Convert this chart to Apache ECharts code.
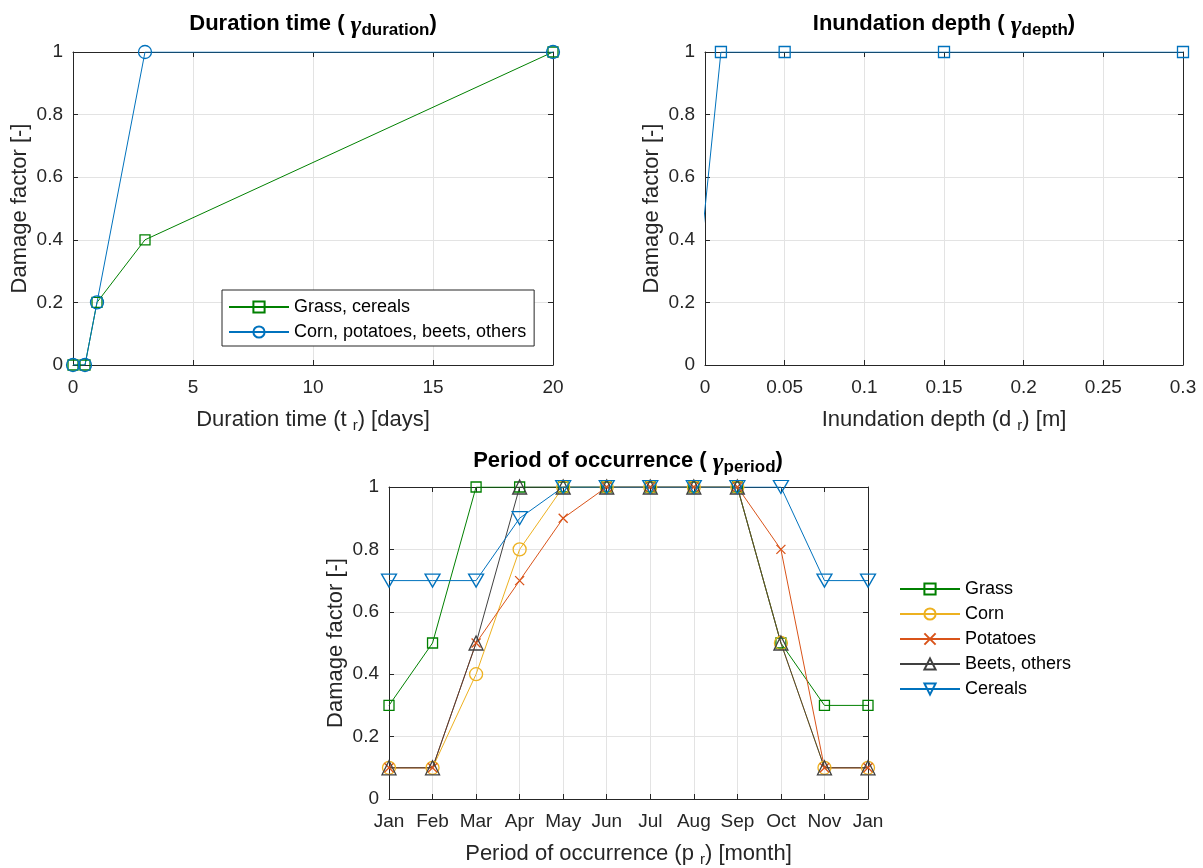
<!DOCTYPE html>
<html>
<head>
<meta charset="utf-8">
<script src="https://cdn.jsdelivr.net/npm/echarts@6/dist/echarts.min.js"></script>
<style>
  html, body { margin: 0; padding: 0; background: #fff; }
  #chart { width: 1203px; height: 868px; }
</style>
</head>
<body>
<div id="chart"></div>
<script>
// Duration time curves (days -> damage factor)
const durationDays = [0, 0.5, 1, 3, 20];
const durationGrassCereals = [0, 0, 0.2, 0.4, 1];
const durationCornOthers = [0, 0, 0.2, 1, 1];

// Inundation depth curve (m -> damage factor); the first point lies left of the axis
const depthMetres = [-0.01, 0.01, 0.05, 0.15, 0.3];
const depthFactor = [0, 1, 1, 1, 1];

// Period of occurrence (month index -> damage factor)
const monthIndex = [1, 2, 3, 4, 5, 6, 7, 8, 9, 10, 11, 12];
const monthLabels = ['Jan', 'Feb', 'Mar', 'Apr', 'May', 'Jun', 'Jul', 'Aug', 'Sep', 'Oct', 'Nov', 'Jan'];
const periodGrass    = [0.3, 0.5, 1, 1, 1, 1, 1, 1, 1, 0.5, 0.3, 0.3];
const periodCorn     = [0.1, 0.1, 0.4, 0.8, 1, 1, 1, 1, 1, 0.5, 0.1, 0.1];
const periodPotatoes = [0.1, 0.1, 0.5, 0.7, 0.9, 1, 1, 1, 1, 0.8, 0.1, 0.1];
const periodBeets    = [0.1, 0.1, 0.5, 1, 1, 1, 1, 1, 1, 0.5, 0.1, 0.1];
const periodCereals  = [0.7, 0.7, 0.7, 0.9, 1, 1, 1, 1, 1, 1, 0.7, 0.7];

const FONT = '"Liberation Sans", Arial, Helvetica, sans-serif';
const INK = '#262626';
const GRID_LINE = '#e3e3e3';

const C_GREEN = '#008000';
const C_BLUE = '#0072BD';
const C_YELLOW = '#EDB120';
const C_ORANGE = '#D95319';
const C_DARK = '#404040';

const SYM_CROSS = 'path://M0,0L10,10M10,0L0,10';
const SYM_DOWN = 'path://M0,0L12,0L6,10Z';

const TICK_FONT = 19;
const LABEL_FONT = 22;
const LEGEND_FONT = 18;

function zip(xs, ys) { return xs.map((x, i) => [x, ys[i]]); }

function seriesOf(name, xs, ys, color, symbol, size, grid) {
  return {
    type: 'line', name: name,
    xAxisIndex: grid, yAxisIndex: grid,
    data: zip(xs, ys),
    symbol: symbol, symbolSize: size, showSymbol: true,
    clip: true, animation: false,
    lineStyle: { color: color, width: 1 },
    itemStyle: { color: 'rgba(255,255,255,0)', borderColor: color, borderWidth: 1.3 },
    emphasis: { disabled: true }
  };
}

const richSub = {
  n: { fontFamily: FONT, fontSize: LABEL_FONT, color: INK, lineHeight: 24, verticalAlign: 'top' },
  s: { fontFamily: FONT, fontSize: 15, color: INK, lineHeight: 15, verticalAlign: 'bottom', padding: [13, 0, 0, 0] }
};

function xAxisPair(grid, min, max, interval, name, formatter) {
  const bottom = {
    type: 'value', gridIndex: grid, position: 'bottom', min: min, max: max, interval: interval,
    name: name, nameLocation: 'middle', nameGap: 44,
    nameTextStyle: { rich: richSub },
    axisLine: { show: true, onZero: false, lineStyle: { color: INK, width: 1 } },
    axisTick: { show: true, inside: true, length: 5, lineStyle: { color: INK } },
    axisLabel: { color: INK, fontFamily: FONT, fontSize: TICK_FONT, margin: 13, formatter: formatter },
    splitLine: { show: true, lineStyle: { color: GRID_LINE, width: 1 } }
  };
  const top = {
    type: 'value', gridIndex: grid, position: 'top', min: min, max: max, interval: interval,
    axisLine: { show: true, onZero: false, lineStyle: { color: INK, width: 1 } },
    axisTick: { show: true, inside: true, length: 5, lineStyle: { color: INK } },
    axisLabel: { show: false }, splitLine: { show: false }
  };
  return [bottom, top];
}

function yAxisPair(grid) {
  const left = {
    type: 'value', gridIndex: grid, position: 'left', min: 0, max: 1, interval: 0.2,
    name: 'Damage factor [-]', nameLocation: 'middle', nameGap: 42,
    nameTextStyle: { fontFamily: FONT, fontSize: LABEL_FONT, color: INK },
    axisLine: { show: true, onZero: false, lineStyle: { color: INK, width: 1 } },
    axisTick: { show: true, inside: true, length: 5, lineStyle: { color: INK } },
    axisLabel: { color: INK, fontFamily: FONT, fontSize: TICK_FONT, margin: 10,
                 formatter: v => String(+v.toFixed(1)) },
    splitLine: { show: true, lineStyle: { color: GRID_LINE, width: 1 } }
  };
  const right = {
    type: 'value', gridIndex: grid, position: 'right', min: 0, max: 1, interval: 0.2,
    axisLine: { show: true, onZero: false, lineStyle: { color: INK, width: 1 } },
    axisTick: { show: true, inside: true, length: 5, lineStyle: { color: INK } },
    axisLabel: { show: false }, splitLine: { show: false }
  };
  return [left, right];
}

const xA0 = xAxisPair(0, 0, 20, 5, '{n|Duration time (t }{s|r}{n|) [days]}', v => String(v));
const xA1 = xAxisPair(1, 0, 0.3, 0.05, '{n|Inundation depth (d }{s|r}{n|) [m]}', v => String(+v.toFixed(2)));
const xA2 = xAxisPair(2, 1, 12, 1, '{n|Period of occurrence (p }{s|r}{n|) [month]}', v => monthLabels[Math.round(v) - 1] || '');
const yA0 = yAxisPair(0), yA1 = yAxisPair(1), yA2 = yAxisPair(2);

// primary axes first (indices 0..2), box axes after (3..5)
const xAxes = [xA0[0], xA1[0], xA2[0], xA0[1], xA1[1], xA2[1]];
const yAxes = [yA0[0], yA1[0], yA2[0], yA0[1], yA1[1], yA2[1]];

const titleRich = {
  b: { fontFamily: FONT, fontSize: 22, fontWeight: 'bold', color: '#000', lineHeight: 26, verticalAlign: 'top' },
  g: { fontFamily: '"Liberation Serif", "DejaVu Serif", serif', fontStyle: 'italic', fontSize: 26, color: '#000', lineHeight: 26, verticalAlign: 'top' },
  s: { fontFamily: FONT, fontSize: 17, fontWeight: 'bold', color: '#000', lineHeight: 17, verticalAlign: 'bottom', padding: [18, 0, 0, 0] }
};

function titleOf(text, cx, top) {
  return { text: text, left: cx, top: top, textAlign: 'center', padding: 0,
           textStyle: { rich: titleRich } };
}

const option = {
  backgroundColor: '#fff',
  animation: false,
  title: [
    titleOf('{b|Duration time ( }{g|γ}{s|duration}{b|)}', 313, 13),
    titleOf('{b|Inundation depth ( }{g|γ}{s|depth}{b|)}', 944, 13),
    titleOf('{b|Period of occurrence ( }{g|γ}{s|period}{b|)}', 628, 450)
  ],
  grid: [
    { left: 73, top: 52, width: 480, height: 313, containLabel: false },
    { left: 705, top: 52, width: 478, height: 313, containLabel: false },
    { left: 389, top: 487, width: 479, height: 312, containLabel: false }
  ],
  legend: [
    {
      data: ['Grass, cereals', 'Corn, potatoes, beets, others'],
      orient: 'vertical', left: 222, top: 290, padding: [8, 8, 5, 6], itemGap: 7,
      itemWidth: 60, itemHeight: 14, selectedMode: false,
      backgroundColor: '#fff', borderColor: INK, borderWidth: 1, borderRadius: 0,
      textStyle: { fontFamily: FONT, fontSize: LEGEND_FONT, lineHeight: 18, color: '#000' }
    },
    {
      data: ['Grass', 'Corn', 'Potatoes', 'Beets, others', 'Cereals'],
      orient: 'vertical', left: 899, top: 580, padding: 0, itemGap: 7,
      itemWidth: 60, itemHeight: 14, selectedMode: false,
      textStyle: { fontFamily: FONT, fontSize: LEGEND_FONT, lineHeight: 18, color: '#000' }
    }
  ],
  xAxis: xAxes,
  yAxis: yAxes,
  series: [
    seriesOf('Grass, cereals', durationDays, durationGrassCereals, C_GREEN, 'rect', 10, 0),
    seriesOf('Corn, potatoes, beets, others', durationDays, durationCornOthers, C_BLUE, 'circle', 13, 0),
    seriesOf('Inundation depth', depthMetres, depthFactor, C_BLUE, 'rect', 11, 1),
    seriesOf('Grass', monthIndex, periodGrass, C_GREEN, 'rect', 10, 2),
    seriesOf('Corn', monthIndex, periodCorn, C_YELLOW, 'circle', 13, 2),
    seriesOf('Potatoes', monthIndex, periodPotatoes, C_ORANGE, SYM_CROSS, 9, 2),
    seriesOf('Beets, others', monthIndex, periodBeets, C_DARK, 'triangle', 14, 2),
    seriesOf('Cereals', monthIndex, periodCereals, C_BLUE, SYM_DOWN, [15, 13], 2)
  ]
};

const chart = echarts.init(document.getElementById('chart'), null, { renderer: 'canvas' });
chart.setOption(option);
</script>
</body>
</html>
